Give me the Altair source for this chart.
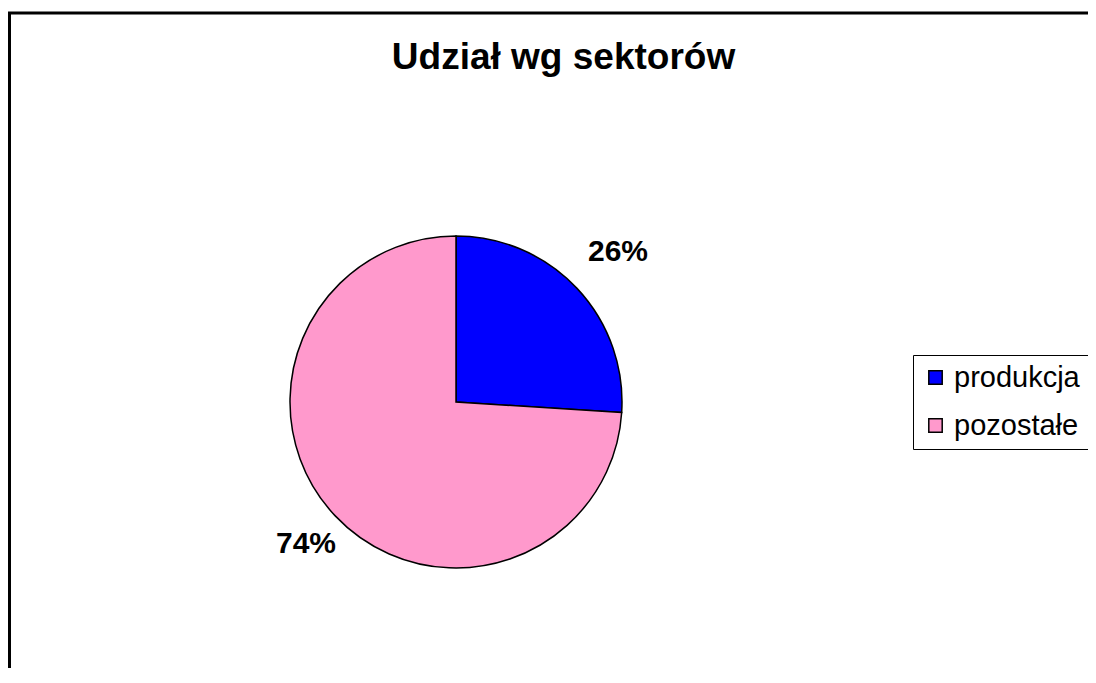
import altair as alt
import pandas as pd

categories = ["produkcja", "pozostałe"]
values = [26, 74]
labels = ["26%", "74%"]
colors = ["#0000FF", "#FF99CC"]

df = pd.DataFrame({"cat": categories, "value": values, "label": labels, "idx": [0, 1]})
frame_df = pd.DataFrame({"a": [0]})

FONT = "Liberation Sans"
CX, CY = 440, 386

frame = alt.Chart(frame_df).mark_rect(filled=False, stroke="black", strokeWidth=3).encode(
    x=alt.value(-6.5), x2=alt.value(3000), y=alt.value(-3), y2=alt.value(3000)
)

base = alt.Chart(df).encode(
    theta=alt.Theta("value:Q", stack=True),
    order=alt.Order("idx:Q"),
)

arc = base.mark_arc(outerRadius=166, stroke="black", strokeWidth=1.5).encode(
    x=alt.value(CX), y=alt.value(CY),
    color=alt.Color(
        "cat:N",
        scale=alt.Scale(domain=categories, range=colors),
        sort=categories,
        legend=alt.Legend(
            title=None, orient="none", legendX=897, legendY=339,
            symbolType="square", symbolSize=180, symbolStrokeColor="black",
            symbolStrokeWidth=1.5, symbolOpacity=1,
            labelFont=FONT, labelFontSize=29, labelColor="black", labelOffset=4,
            padding=8, rowPadding=18, strokeColor="black",
        ),
    ),
)

text = base.mark_text(radius=214, dx=6, dy=-4, font=FONT, fontSize=30,
                      fontWeight="bold", color="black").encode(
    x=alt.value(CX), y=alt.value(CY), text="label:N"
)

chart = alt.layer(frame, arc, text).properties(
    width=1072, height=652,
    autosize=alt.AutoSizeParams(type="none"),
    padding={"left": 8, "top": 8, "right": 0, "bottom": 0},
    title=alt.TitleParams(
        "Udział wg sektorów", font=FONT, fontSize=37, fontWeight="bold",
        color="black", anchor="middle", dx=11.5, dy=69,
    ),
).configure_view(stroke=None)

chart.save("out.html", embed_options={"renderer": "svg", "actions": False})
